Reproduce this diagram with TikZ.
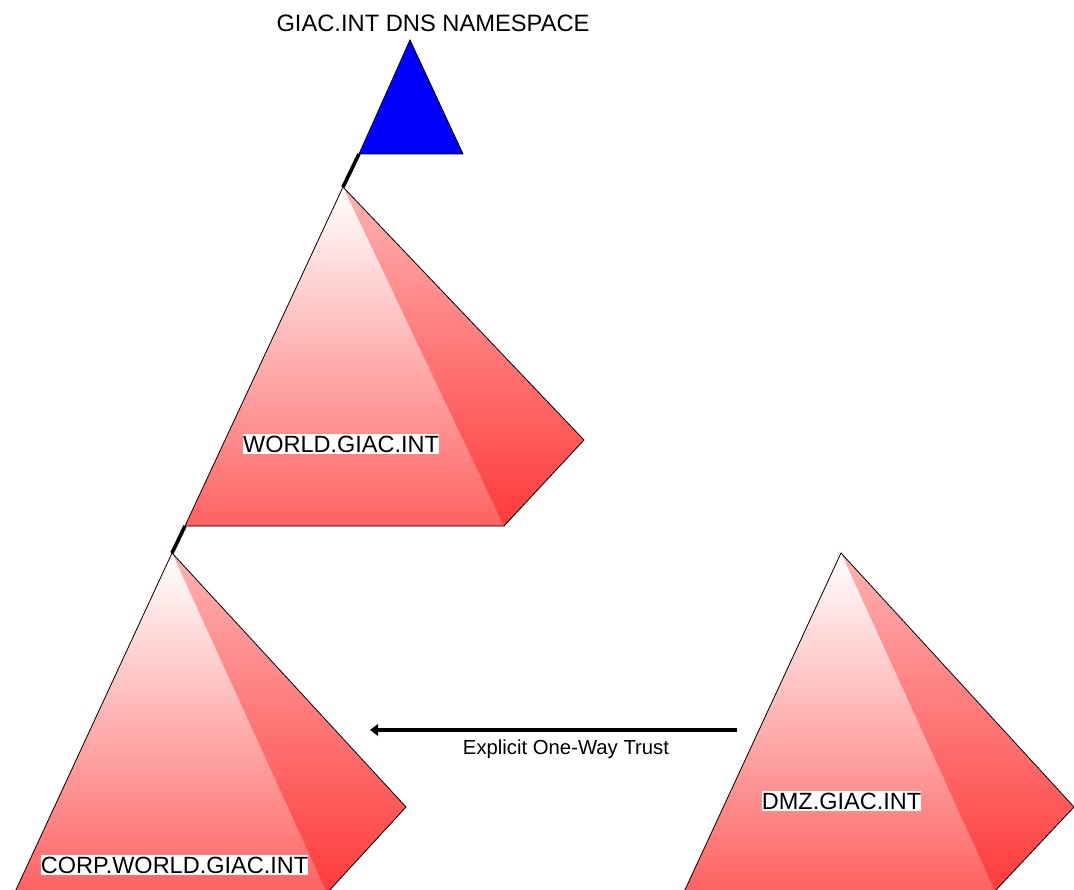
\documentclass[tikz,border=0pt]{standalone}
\usepackage{fontspec}
\setmainfont{Liberation Sans}
\usetikzlibrary{arrows.meta}
\definecolor{triblue}{RGB}{0,0,255}
\definecolor{frontbot}{RGB}{255,98,98}
\definecolor{sidetop}{RGB}{255,178,178}
\definecolor{sidebot}{RGB}{255,58,58}
\tikzset{
  edge/.style={draw=black, line width=0.8pt, line join=miter},
  link/.style={draw=black, line width=3.6pt},
  trust/.style={draw=black, line width=3.2pt, -{Triangle[length=8pt,width=11.5pt]}},
  lbl/.style={fill=white, inner xsep=0pt, inner ysep=1.6pt, font=\fontsize{23.5}{24}\selectfont, text height=16.8pt, text depth=0pt},
  ttl/.style={inner sep=0pt, anchor=base, font=\fontsize{23.7}{24}\selectfont},
  note/.style={inner sep=0pt, anchor=base, font=\fontsize{20.3}{22}\selectfont},
}
\newcommand{\mypyr}[4]{%
  \shade[top color=sidetop, bottom color=sidebot] (#1) -- (#4) -- (#3) -- (#2) -- cycle;
  \shade[top color=white, bottom color=frontbot] (#1) -- (#2) -- (#3) -- cycle;
  \draw[edge] (#2) -- (#1) -- (#4) -- (#3) -- cycle;
}
\begin{document}
\begin{tikzpicture}[x=1pt,y=-1pt]
\useasboundingbox (0,0) rectangle (1074,890);
\fill[white] (0,0) rectangle (1074,890);
\clip (0,0) rectangle (1074,890);
% blue root triangle
\coordinate (bA) at (410,40);
\coordinate (bL) at (359,154);
\coordinate (bR) at (463,154);
\draw[edge, fill=triblue] (bA) -- (bL) -- (bR) -- cycle;
% WORLD
\coordinate (wA) at (343,187);
\coordinate (wL) at (185,526);
\coordinate (wB) at (504,526);
\coordinate (wR) at (584,440);
\mypyr{wA}{wL}{wB}{wR}
% CORP
\coordinate (cA) at (172,553);
\coordinate (cL) at (15,892);
\coordinate (cB) at (327,893);
\coordinate (cR) at (406,807);
\mypyr{cA}{cL}{cB}{cR}
% DMZ
\coordinate (dA) at (841,553);
\coordinate (dL) at (684,892);
\coordinate (dB) at (995,891);
\coordinate (dR) at (1074,807);
\mypyr{dA}{dL}{dB}{dR}
% links
\draw[link] (bL) -- (wA);
\draw[link] (wL) -- (cA);
% trust arrow
\coordinate (tS) at (737,730);
\coordinate (tE) at (370,730);
\draw[trust] (tS) -- (tE);
% texts
\node[ttl] (title) at (433,32) {GIAC.INT DNS NAMESPACE};
\node[lbl] (world) at (341,444) {WORLD.GIAC.INT};
\node[lbl] (corp) at (174.5,865) {CORP.WORLD.GIAC.INT};
\node[lbl] (dmz) at (841.5,801) {DMZ.GIAC.INT};
\node[note] (trustlbl) at (566,754.5) {Explicit One-Way Trust};
\end{tikzpicture}
\end{document}
